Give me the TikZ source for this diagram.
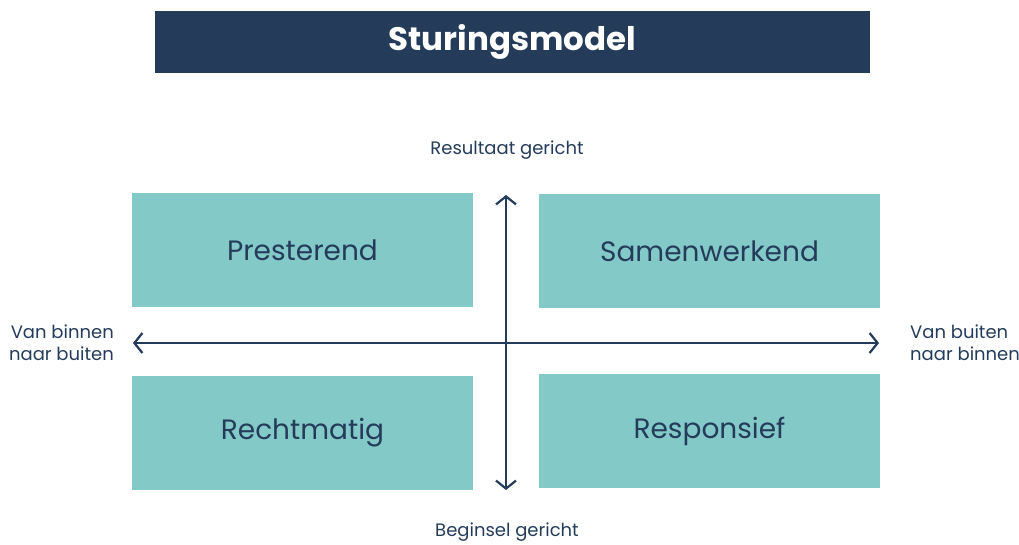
\documentclass[tikz,border=0pt]{standalone}
\usepackage{fontspec}
\setmainfont{Poppins}
\usetikzlibrary{positioning,arrows.meta}
\tikzstyle{diagram} = [x = 1pt, y = -1pt]
\definecolor{navyColor}{HTML}{243C5A}
\definecolor{tealColor}{HTML}{83C9C8}
\tikzstyle{titleStyle} = [fill=navyColor, text=white, font=\bfseries\fontsize{32.5}{36}\selectfont, minimum width=715pt, minimum height=62pt, inner sep=0pt]
\tikzstyle{quadrantStyle} = [fill=tealColor, text=navyColor, font=\fontsize{28}{30}\selectfont, minimum width=341pt, minimum height=114pt, inner sep=0pt]
\tikzstyle{axisLabel} = [text=navyColor, font=\fontsize{18}{22}\selectfont, inner sep=0pt]
\tikzstyle{axisArrow} = [draw=navyColor, line width=2.2pt, {Straight Barb[length=8pt, width=20pt]}-{Straight Barb[length=8pt, width=20pt]}]
\newcommand{\quadrant}[4]{\node [quadrantStyle] (#1) at (#2, #3) {#4};}

\begin{document}
\begin{tikzpicture}[diagram]
  \useasboundingbox (0, 0) rectangle (1019, 544);
  \node [titleStyle] (title) at (512.5, 42) {Sturingsmodel};
  \quadrant{presterend}{302.5}{250}{Presterend}
  \quadrant{samenwerkend}{709.5}{251}{Samenwerkend}
  \quadrant{rechtmatig}{302.5}{433}{Rechtmatig}
  \quadrant{responsief}{709.5}{431}{Responsief}
  \coordinate (top) at (506, 195);
  \coordinate (bottom) at (506, 490);
  \coordinate (left) at (133, 343);
  \coordinate (right) at (879, 343);
  \draw [axisArrow] (bottom) -- (top);
  \draw [axisArrow] (left) -- (right);
  \node [axisLabel] (resultaat) at (507, 150) {Resultaat gericht};
  \node [axisLabel] (beginsel) at (507, 532) {Beginsel gericht};
  \node [axisLabel, align=right, left=19pt of left] (binnenBuiten) {Van binnen\\naar buiten};
  \node [axisLabel, align=left, right=31pt of right] (buitenBinnen) {Van buiten\\naar binnen};
\end{tikzpicture}
\end{document}
